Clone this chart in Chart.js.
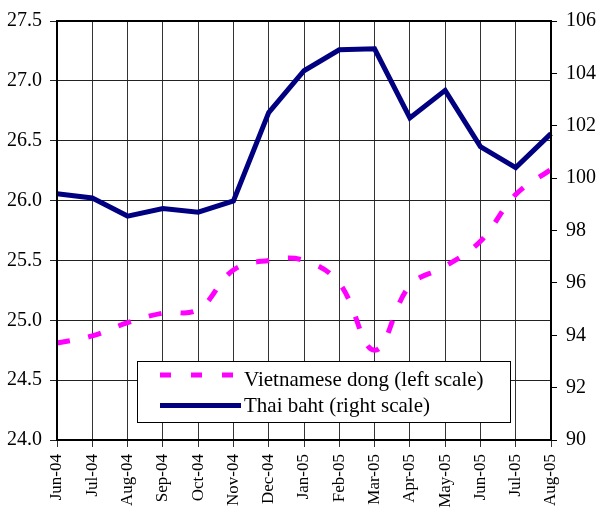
<!DOCTYPE html>
<html>
<head>
<meta charset="utf-8">
<script src="https://cdn.jsdelivr.net/npm/chart.js@4/dist/chart.umd.min.js"></script>
<style>
html,body{margin:0;padding:0;background:#fff;}
#wrap{position:relative;width:603px;height:511px;}
</style>
</head>
<body>
<div id="wrap"><canvas id="c" width="603" height="511"></canvas></div>
<script>
const categories = ["Jun-04","Jul-04","Aug-04","Sep-04","Oct-04","Nov-04","Dec-04","Jan-05","Feb-05","Mar-05","Apr-05","May-05","Jun-05","Jul-05","Aug-05"];
const vietnameseDong = [24.81,24.87,24.98,25.06,25.09,25.42,25.50,25.50,25.31,24.75,25.29,25.45,25.66,26.05,26.26];
const thaiBaht = [99.4,99.24,98.55,98.84,98.7,99.13,102.5,104.1,104.9,104.94,102.3,103.35,101.2,100.4,101.7];
const leftTicks = {min:24, max:27.5, step:0.5};
const rightTicks = {min:90, max:106, step:2};
const seriesLabels = ["Vietnamese dong (left scale)","Thai baht (right scale)"];

const FONT = "'Liberation Serif','Times New Roman',serif";

const framePlugin = {
  id:'frame',
  afterDatasetsDraw(chart){
    const {ctx, chartArea:a} = chart;
    ctx.save();
    ctx.strokeStyle = '#000';
    ctx.lineWidth = 2;
    ctx.strokeRect(a.left, a.top, a.right-a.left, a.bottom-a.top);
    // legend
    const bx=137.5, by=361.5, bw=373, bh=61;
    ctx.fillStyle='#fff';
    ctx.fillRect(bx,by,bw,bh);
    ctx.lineWidth=1;
    ctx.strokeStyle='#000';
    ctx.strokeRect(bx,by,bw,bh);
    const ds = chart.data.datasets;
    const rows=[375,405.5];
    const base=[385.5,412];
    ds.forEach((d,i)=>{
      ctx.beginPath();
      ctx.strokeStyle=d.borderColor;
      ctx.lineWidth=d.borderWidth;
      ctx.setLineDash(i===0?[11,20]:[]);
      ctx.lineCap='butt';
      ctx.moveTo(160,rows[i]);ctx.lineTo(i===0?242:241,rows[i]);
      ctx.stroke();
      ctx.setLineDash([]);
      ctx.fillStyle='#000';
      ctx.font='21px '+FONT;
      ctx.textBaseline='alphabetic';
      ctx.textAlign='left';
      ctx.fillText(d.label,244,base[i]);
    });
    ctx.restore();
  }
};

new Chart(document.getElementById('c'),{
  type:'line',
  data:{
    labels:categories,
    datasets:[
      {label:seriesLabels[0],data:vietnameseDong,yAxisID:'yL',borderColor:'#FF00FF',borderWidth:5,borderDash:[13,19],borderCapStyle:'butt',pointRadius:0,tension:0.4,fill:false},
      {label:seriesLabels[1],data:thaiBaht,yAxisID:'yR',borderColor:'#000080',borderWidth:5,pointRadius:0,tension:0,fill:false,borderJoinStyle:'miter'}
    ]
  },
  options:{
    responsive:false,
    animation:false,
    layout:{padding:{top:18,left:0,right:0,bottom:0}},
    plugins:{legend:{display:false},tooltip:{enabled:false}},
    scales:{
      x:{
        type:'category',
        offset:false,
        grid:{offset:false,color:'#333',lineWidth:1,tickLength:7},
        border:{color:'#000',width:2},
        ticks:{minRotation:90,maxRotation:90,autoSkip:false,padding:7,color:'#000',font:{family:FONT,size:17}},
        afterFit(s){s.height=71;}
      },
      yL:{
        position:'left',
        min:leftTicks.min,max:leftTicks.max,
        grid:{color:'#222',lineWidth:1,tickLength:7},
        border:{color:'#000',width:2},
        ticks:{stepSize:leftTicks.step,padding:8,color:'#000',font:{family:FONT,size:20},callback:v=>Number(v).toFixed(1)},
        afterFit(s){s.width=57;}
      },
      yR:{
        position:'right',
        min:rightTicks.min,max:rightTicks.max,
        grid:{drawOnChartArea:false,color:'#000',lineWidth:1,tickLength:6},
        border:{color:'#000',width:2},
        ticks:{stepSize:rightTicks.step,padding:9,color:'#000',font:{family:FONT,size:20}},
        afterFit(s){s.width=52;}
      }
    }
  },
  plugins:[framePlugin]
});
</script>
</body>
</html>
